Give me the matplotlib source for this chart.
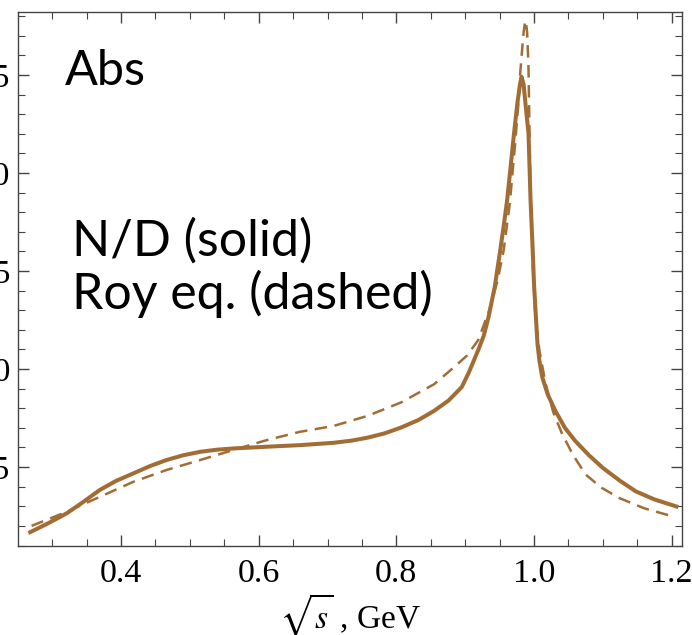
import numpy as np
import matplotlib.pyplot as plt
from matplotlib.ticker import MultipleLocator

plt.rcParams['mathtext.fontset'] = 'stix'

# N/D solution (solid)
nd_x = [0.268, 0.295, 0.321, 0.345, 0.369, 0.393, 0.418, 0.442, 0.466, 0.490,
        0.515, 0.540, 0.563, 0.612, 0.660, 0.709, 0.735, 0.758, 0.783, 0.807,
        0.832, 0.855, 0.876, 0.895, 0.905, 0.919, 0.927, 0.934, 0.943, 0.951,
        0.956, 0.961, 0.966, 0.971, 0.976, 0.980, 0.982, 0.985, 0.988, 0.992,
        0.995, 0.998, 1.000, 1.005, 1.008, 1.012, 1.020, 1.031, 1.045, 1.060,
        1.080, 1.100, 1.125, 1.148, 1.175, 1.207]
nd_y = [0.168, 0.215, 0.264, 0.322, 0.383, 0.430, 0.468, 0.505, 0.536, 0.560,
        0.578, 0.589, 0.595, 0.604, 0.612, 0.624, 0.635, 0.650, 0.672, 0.702,
        0.740, 0.787, 0.840, 0.908, 0.980, 1.097, 1.170, 1.266, 1.420, 1.607,
        1.730, 1.862, 2.030, 2.203, 2.360, 2.460, 2.491, 2.450, 2.340, 2.204,
        1.862, 1.620, 1.437, 1.131, 1.040, 0.959, 0.870, 0.787, 0.700, 0.633,
        0.560, 0.496, 0.430, 0.376, 0.335, 0.299]

# Roy equations (dashed)
roy_x = [0.270, 0.321, 0.369, 0.418, 0.466, 0.515, 0.563, 0.612, 0.660, 0.709,
         0.758, 0.807, 0.855, 0.884, 0.903, 0.919, 0.935, 0.947, 0.956, 0.965,
         0.973, 0.977, 0.980, 0.983, 0.985, 0.987, 0.988, 0.990, 0.992, 0.9935,
         0.995, 0.998, 1.002, 1.008, 1.017, 1.028, 1.041, 1.057, 1.075, 1.098,
         1.124, 1.160, 1.202]
roy_y = [0.200, 0.272, 0.348, 0.425, 0.485, 0.536, 0.587, 0.638, 0.680, 0.710,
         0.761, 0.830, 0.923, 1.010, 1.070, 1.148, 1.300, 1.450, 1.607, 1.850,
         2.168, 2.340, 2.510, 2.640, 2.720, 2.770, 2.777, 2.720, 2.542, 2.200,
         1.862, 1.550, 1.266, 1.090, 0.923, 0.780, 0.668, 0.560, 0.462, 0.395,
         0.342, 0.290, 0.248]

x_ticks = [0.4, 0.6, 0.8, 1.0, 1.2]
y_ticks = [0.5, 1.0, 1.5, 2.0, 2.5]

color = '#a26d35'

fig = plt.figure(figsize=(6.92, 6.35), dpi=100)
ax = fig.add_axes([0.0267, 0.140, 0.9588, 0.841])

ax.plot(nd_x, nd_y, color=color, lw=2.9, solid_joinstyle='round')
ax.plot(roy_x, roy_y, color=color, lw=1.8, dashes=(5, 3))

ax.set_xlim(0.251, 1.215)
ax.set_ylim(0.097, 2.821)
ax.set_xticks(x_ticks)
ax.set_yticks(y_ticks)
ax.xaxis.set_minor_locator(MultipleLocator(0.05))
ax.yaxis.set_minor_locator(MultipleLocator(0.1))
ax.set_xticklabels(['%.1f' % v for v in x_ticks])
ax.set_yticklabels(['%.1f' % v for v in y_ticks])

ax.tick_params(which='both', direction='in', top=True, right=True, color='#444444')
ax.tick_params(which='major', length=8, width=1, labelsize=24.5)
ax.tick_params(axis='x', which='major', pad=9)
ax.tick_params(axis='y', which='major', pad=6)
ax.tick_params(which='minor', length=5, width=0.8)
for lab in ax.get_xticklabels() + ax.get_yticklabels():
    lab.set_family('Liberation Serif')
for sp in ax.spines.values():
    sp.set_color('#444444')
    sp.set_linewidth(1.0)

ax.set_xlabel(r'$\sqrt{s}$ , GeV', fontsize=24, family='Liberation Serif')
ax.xaxis.set_label_coords(0.5, -0.085)

ax.text(0.07, 0.93, 'Abs', transform=ax.transAxes, fontsize=35, family='Lato',
        va='top', ha='left')
ax.text(0.08, 0.615, 'N/D (solid)\nRoy eq. (dashed)', transform=ax.transAxes,
        fontsize=36, family='Lato', va='top', ha='left', linespacing=1.15)

fig.savefig('out.png', dpi=100)
